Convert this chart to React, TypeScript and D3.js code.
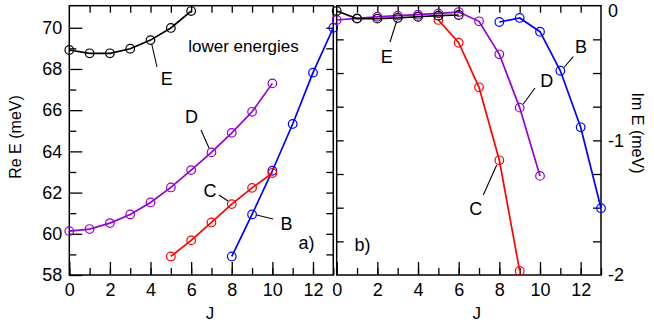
import React, { useEffect, useRef } from 'react';
import * as d3 from 'd3';

// J values for each branch
const jE = [0, 1, 2, 3, 4, 5, 6];
const jD = [0, 1, 2, 3, 4, 5, 6, 7, 8, 9, 10];
const jCre = [5, 6, 7, 8, 9, 10];
const jCim = [5, 6, 7, 8, 9];
const jB = [8, 9, 10, 11, 12, 13];

// Re E (meV), panel a)
const reE = [68.92, 68.76, 68.76, 68.98, 69.4, 69.99, 70.81];
const reD = [60.13, 60.23, 60.52, 60.94, 61.52, 62.25, 63.09, 63.95, 64.9, 65.92, 67.3];
const reC = [58.9, 59.68, 60.55, 61.44, 62.23, 62.95];
const reB = [58.9, 60.94, 63.06, 65.33, 67.82, 70.0];

// Im E (meV), panel b)
const imE = [-0.039, -0.096, -0.096, -0.091, -0.082, -0.074, -0.069];
const imD = [-0.106, -0.094, -0.082, -0.074, -0.067, -0.057, -0.047, -0.116, -0.361, -0.757, -1.264];
const imC = [-0.106, -0.275, -0.606, -1.148, -1.97];
const imB = [-0.121, -0.091, -0.193, -0.483, -0.903, -1.504];

const reTicks = [58, 60, 62, 64, 66, 68, 70];
const imTicks = [-2, -1, 0];
const jTicks = [0, 2, 4, 6, 8, 10, 12];

const COLORS = { E: '#000000', D: '#9400d3', C: '#ff0000', B: '#0000ff' };
const FONT = '"Liberation Sans", Arial, Helvetica, sans-serif';

const App = () => {
  const svgRef = useRef<SVGSVGElement | null>(null);

  useEffect(() => {
    const svg = d3.select(svgRef.current);
    svg.selectAll('*').remove();

    const top = 5.7;
    const bottom = 275;
    const xa = d3.scaleLinear().domain([0, 13]).range([69.3, 333.3]);
    const xb = d3.scaleLinear().domain([0, 13]).range([336.7, 601]);
    const ya = d3.scaleLinear().domain([58, 71.07]).range([bottom, top]);
    const yb = d3.scaleLinear().domain([-2, 0]).range([bottom, top]);

    const styleAxis = (g: any, labels: boolean) => {
      g.select('.domain').remove();
      g.selectAll('line').attr('stroke', '#000').attr('stroke-width', 1.3);
      g.attr('font-family', FONT).attr('font-size', 18);
      g.selectAll('text').attr('fill', '#000');
      if (!labels) g.selectAll('text').remove();
    };

    const panel = (x: any, y: any, minorY: number[], majorY: number[], side: 'left' | 'right', rightMinor: number[]) => {
      const allJ = d3.range(0, 14);
      // bottom minor
      svg.append('g').attr('transform', `translate(0,${bottom})`)
        .call(d3.axisBottom(x).tickValues(allJ).tickSizeInner(-7).tickSizeOuter(0))
        .call((g: any) => styleAxis(g, false));
      // bottom major with labels
      svg.append('g').attr('transform', `translate(0,${bottom})`)
        .call(d3.axisBottom(x).tickValues(jTicks).tickSizeInner(-13).tickSizeOuter(0).tickPadding(8).tickFormat((d: any) => String(d)))
        .call((g: any) => styleAxis(g, true));
      // top
      svg.append('g').attr('transform', `translate(0,${top})`)
        .call(d3.axisTop(x).tickValues(allJ.filter((d) => d > 0 && d < 13)).tickSizeInner(-7).tickSizeOuter(0))
        .call((g: any) => styleAxis(g, false));

      const [x0, x1] = x.range();
      if (side === 'left') {
        svg.append('g').attr('transform', `translate(${x0},0)`)
          .call(d3.axisLeft(y).tickValues(minorY).tickSizeInner(-7).tickSizeOuter(0))
          .call((g: any) => styleAxis(g, false));
        svg.append('g').attr('transform', `translate(${x0},0)`)
          .call(d3.axisLeft(y).tickValues(majorY).tickSizeInner(-13).tickSizeOuter(0).tickPadding(7).tickFormat((d: any) => String(d)))
          .call((g: any) => styleAxis(g, true));
        svg.append('g').attr('transform', `translate(${x1},0)`)
          .call(d3.axisRight(y).tickValues(rightMinor).tickSizeInner(-7).tickSizeOuter(0))
          .call((g: any) => styleAxis(g, false));
      } else {
        svg.append('g').attr('transform', `translate(${x0},0)`)
          .call(d3.axisLeft(y).tickValues(minorY).tickSizeInner(-7).tickSizeOuter(0))
          .call((g: any) => styleAxis(g, false));
        svg.append('g').attr('transform', `translate(${x1},0)`)
          .call(d3.axisRight(y).tickValues(rightMinor).tickSizeInner(-8).tickSizeOuter(0))
          .call((g: any) => styleAxis(g, false));
        svg.append('g').attr('transform', `translate(${x1},0)`)
          .call(d3.axisRight(y).tickValues(majorY).tickSizeInner(0).tickSizeOuter(0).tickPadding(7).tickFormat((d: any) => String(d)))
          .call((g: any) => styleAxis(g, true))
          // keep the top "0" inside the picture
          .call((g: any) => g.selectAll('text').filter((d: any) => d === 0).attr('dy', '0.6em'));
      }

      svg.append('rect')
        .attr('x', x0).attr('y', top)
        .attr('width', x1 - x0).attr('height', bottom - top)
        .attr('fill', 'none').attr('stroke', '#000').attr('stroke-width', 1.5);
    };

    const reMinor = d3.range(59, 71, 2);
    const reAll = d3.range(59, 71);
    const quarter = d3.range(-1.75, 0, 0.25);
    panel(xa, ya, reMinor, reTicks, 'left', reAll);
    panel(xb, yb, quarter, imTicks, 'right', quarter);

    const series = (x: any, y: any, js: number[], vals: number[], color: string) => {
      const pts = js.map((j, i) => [x(j), y(vals[i])] as [number, number]);
      svg.append('path')
        .attr('d', d3.line()(pts))
        .attr('fill', 'none')
        .attr('stroke', color)
        .attr('stroke-width', 1.7);
      svg.append('g').selectAll('circle').data(pts).enter().append('circle')
        .attr('cx', (d) => d[0]).attr('cy', (d) => d[1]).attr('r', 4.3)
        .attr('fill', 'none').attr('stroke', color).attr('stroke-width', 1.2);
    };

    series(xa, ya, jB, reB, COLORS.B);
    series(xa, ya, jCre, reC, COLORS.C);
    series(xa, ya, jD, reD, COLORS.D);
    series(xa, ya, jE, reE, COLORS.E);

    series(xb, yb, jB, imB, COLORS.B);
    series(xb, yb, jCim, imC, COLORS.C);
    series(xb, yb, jD, imD, COLORS.D);
    series(xb, yb, jE, imE, COLORS.E);

    // leader lines for the branch labels
    const leaders = [
      [151.7, 44, 157, 67], [201, 130, 209, 148], [219, 195, 228, 201], [256.7, 215, 273, 219],
      [396.7, 21, 390, 42], [535, 88, 523.3, 104], [573.3, 56.7, 564, 67.5], [483.3, 195, 496.7, 165],
    ];
    svg.append('g').selectAll('line').data(leaders).enter().append('line')
      .attr('x1', (d) => d[0]).attr('y1', (d) => d[1])
      .attr('x2', (d) => d[2]).attr('y2', (d) => d[3])
      .attr('stroke', '#000').attr('stroke-width', 1.1);

    const labels: [string, number, number][] = [
      ['E', 166.7, 85], ['D', 191.5, 123], ['C', 210, 197], ['B', 286.5, 230], ['a)', 306.5, 249],
      ['E', 386.7, 63.3], ['D', 546.7, 87], ['B', 581, 53.3], ['C', 475.7, 215], ['b)', 362.5, 251],
    ];
    svg.append('g').selectAll('text').data(labels).enter().append('text')
      .attr('x', (d) => d[1]).attr('y', (d) => d[2])
      .attr('text-anchor', 'middle')
      .attr('font-family', FONT).attr('font-size', 18)
      .text((d) => d[0]);

    svg.append('text').attr('x', 243.5).attr('y', 51.5)
      .attr('text-anchor', 'middle').attr('font-family', FONT).attr('font-size', 17)
      .text('lower energies');

    svg.append('text').attr('x', 210).attr('y', 319)
      .attr('text-anchor', 'middle').attr('font-family', FONT).attr('font-size', 17).text('J');
    svg.append('text').attr('x', 476.7).attr('y', 319)
      .attr('text-anchor', 'middle').attr('font-family', FONT).attr('font-size', 17).text('J');

    svg.append('text').attr('transform', 'translate(20.5,137) rotate(-90)')
      .attr('text-anchor', 'middle').attr('font-family', FONT).attr('font-size', 16).text('Re E (meV)');
    svg.append('text').attr('transform', 'translate(631.5,133) rotate(90)')
      .attr('text-anchor', 'middle').attr('font-family', FONT).attr('font-size', 16).text('Im E (meV)');
  }, []);

  return (
    <svg
      ref={svgRef}
      width={654}
      height={328}
      style={{ position: 'absolute', left: 0, top: 0, background: '#fff' }}
    />
  );
};

export default App;
